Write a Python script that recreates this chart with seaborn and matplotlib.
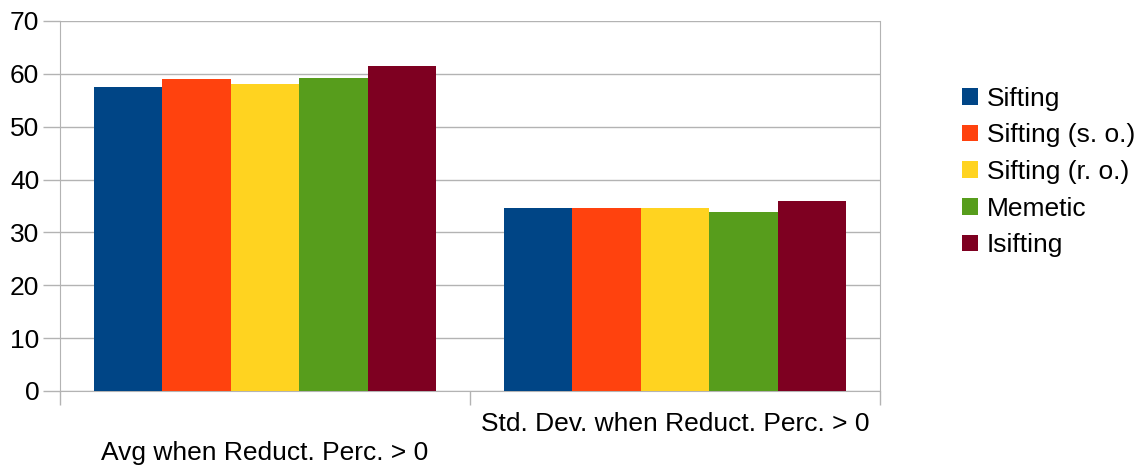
import matplotlib.pyplot as plt
import seaborn as sns
import pandas as pd

# data
categories = ['Avg when Reduct. Perc. > 0', 'Std. Dev. when Reduct. Perc. > 0']
methods = ['Sifting', 'Sifting (s. o.)', 'Sifting (r. o.)', 'Memetic', 'Isifting']
values = {
    'Sifting': [57.6, 34.6],
    'Sifting (s. o.)': [59.0, 34.6],
    'Sifting (r. o.)': [58.1, 34.6],
    'Memetic': [59.2, 33.9],
    'Isifting': [61.5, 35.9],
}
colors = ['#004586', '#ff420e', '#ffd320', '#579d1c', '#7e0021']

rows = []
for m in methods:
    for c, v in zip(categories, values[m]):
        rows.append({'Category': c, 'Method': m, 'Value': v})
df = pd.DataFrame(rows)

sns.set_style('white')
plt.rcParams['font.family'] = ['Liberation Sans', 'DejaVu Sans']
plt.rcParams['text.color'] = 'black'
plt.rcParams['ytick.color'] = 'black'

fig = plt.figure(figsize=(11.39, 4.66), dpi=100)
ax = fig.add_axes([60 / 1139, 75 / 466, 820 / 1139, 370 / 466])

sns.barplot(data=df, x='Category', y='Value', hue='Method', hue_order=methods,
            palette=colors, width=0.834, gap=0, saturation=1, linewidth=0,
            ax=ax, zorder=3)

ax.set_xlim(-0.5, 1.5)
ax.set_ylim(0, 70)
ax.set_yticks(range(0, 71, 10))
ax.grid(axis='y', color='#b3b3b3', linewidth=1, zorder=0)
for s in ax.spines.values():
    s.set_color('#b3b3b3')
ax.spines['top'].set_visible(False)

# category ticks at the boundaries, labels staggered
ax.set_xticks([-0.5, 0.5, 1.5])
ax.set_xticklabels([])
ax.tick_params(axis='x', bottom=True, length=10, color='#b3b3b3', width=1)
ax.tick_params(axis='y', left=True, length=12, color='#b3b3b3', width=1,
               labelsize=19, labelcolor='black', pad=3)
ax.text(0, -0.1676, categories[0], transform=ax.get_xaxis_transform(),
        ha='center', va='center', fontsize=19)
ax.text(1, -0.089, categories[1], transform=ax.get_xaxis_transform(),
        ha='center', va='center', fontsize=19)

ax.set_xlabel('')
ax.set_ylabel('')

ax.legend(loc='center left', bbox_to_anchor=(1.1, 0.592), frameon=False,
          fontsize=19, handlelength=0.6, handleheight=0.6, handletextpad=0.35,
          labelspacing=0.48, borderaxespad=0, borderpad=0)

fig.savefig('out.png', dpi=100)
